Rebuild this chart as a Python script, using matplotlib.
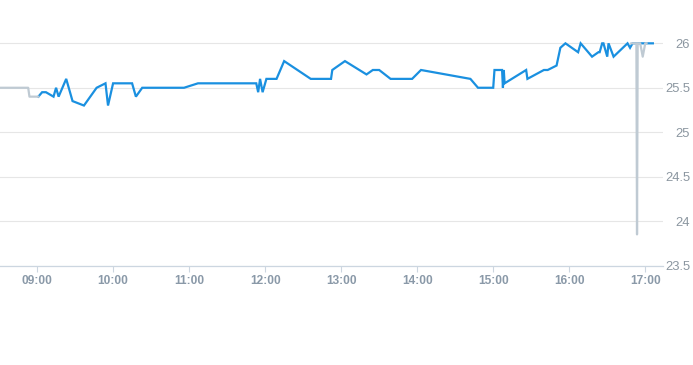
import matplotlib
matplotlib.use("Agg")
import matplotlib.pyplot as plt
import matplotlib.dates as mdates
import pandas as pd

DAY = "2024-01-01 "

# Main (blue) series
blue_times = ["09:01", "09:04", "09:07", "09:13", "09:15", "09:17", "09:23", "09:28",
              "09:37", "09:47", "09:54", "09:56", "10:00", "10:15", "10:18", "10:23",
              "10:56", "11:07", "11:53", "11:54:30", "11:56", "11:58", "12:01", "12:09",
              "12:15", "12:36", "12:52", "12:53", "13:03", "13:20", "13:25", "13:30",
              "13:39", "13:56", "14:03", "14:42", "14:48", "15:00", "15:01", "15:07",
              "15:07:40", "15:08:20", "15:09", "15:26", "15:27", "15:40", "15:43", "15:50",
              "15:53", "15:57", "16:07", "16:09", "16:18", "16:23", "16:24", "16:26",
              "16:27", "16:30", "16:31", "16:35", "16:46", "16:48", "16:50", "17:06"]
blue_values = [25.4, 25.45, 25.45, 25.4, 25.5, 25.4, 25.6, 25.35,
               25.3, 25.5, 25.55, 25.3, 25.55, 25.55, 25.4, 25.5,
               25.5, 25.55, 25.55, 25.45, 25.6, 25.45, 25.6, 25.6,
               25.8, 25.6, 25.6, 25.7, 25.8, 25.65, 25.7, 25.7,
               25.6, 25.6, 25.7, 25.6, 25.5, 25.5, 25.7, 25.7,
               25.5, 25.7, 25.55, 25.7, 25.6, 25.7, 25.7, 25.75,
               25.95, 26.0, 25.9, 26.0, 25.85, 25.9, 25.9, 26.0,
               26.0, 25.85, 26.0, 25.85, 26.0, 25.95, 26.0, 26.0]

# Secondary (grey) series, two visible segments
grey1_times = ["08:31", "08:53", "08:54", "09:01"]
grey1_values = [25.5, 25.5, 25.4, 25.4]
grey2_times = ["16:49", "16:53", "16:53:30", "16:54", "16:56", "16:58", "17:00", "17:01"]
grey2_values = [26.0, 26.0, 23.85, 26.0, 26.0, 25.85, 26.0, 26.0]

y_ticks = [23.5, 24, 24.5, 25, 25.5, 26]
y_tick_labels = ["23.5", "24", "24.5", "25", "25.5", "26"]
x_ticks = ["09:00", "10:00", "11:00", "12:00", "13:00", "14:00", "15:00", "16:00", "17:00"]


def to_dt(ts):
    return pd.to_datetime([DAY + t for t in ts], format="mixed")


BLUE = "#1a90e0"
GREY = "#bfcad3"
LABEL = "#8a99a8"

fig = plt.figure(figsize=(6.93, 3.65), dpi=100)
ax = fig.add_axes([0.0, 1 - 265.5 / 365, 663 / 693, (265.5 - 30) / 365])

ax.plot(to_dt(blue_times), blue_values, color=BLUE, lw=1.6, zorder=3,
        solid_joinstyle="miter")
ax.plot(to_dt(grey1_times), grey1_values, color=GREY, lw=1.6, zorder=4)
ax.plot(to_dt(grey2_times), grey2_values, color=GREY, lw=1.6, zorder=4)

ax.set_xlim(pd.Timestamp(DAY + "08:30:45"), pd.Timestamp(DAY + "17:14"))
ax.set_ylim(23.5, 26.15)

ax.set_yticks(y_ticks)
ax.set_yticklabels(y_tick_labels)
ax.yaxis.tick_right()
ax.tick_params(axis="y", length=0, pad=19.5, labelsize=9.4, labelcolor="#8b96a0")
for lab in ax.get_yticklabels():
    lab.set_horizontalalignment("right")
    lab.set_fontfamily("Liberation Sans")

ax.set_xticks(to_dt(x_ticks))
ax.xaxis.set_major_formatter(mdates.DateFormatter("%H:%M"))
ax.tick_params(axis="x", length=4, width=0.8, color="#ccd6e0", pad=3,
               labelsize=8.6, labelcolor=LABEL)
for lab in ax.get_xticklabels():
    lab.set_fontweight("bold")
    lab.set_fontfamily("Liberation Sans")

ax.grid(axis="y", color="#e6e6e6", lw=0.8)
ax.grid(axis="x", visible=False)
for side in ["top", "left", "right"]:
    ax.spines[side].set_visible(False)
ax.spines["bottom"].set_color("#ccd6e0")
ax.spines["bottom"].set_linewidth(0.9)
ax.set_axisbelow(True)

fig.savefig("out.png", dpi=100)
